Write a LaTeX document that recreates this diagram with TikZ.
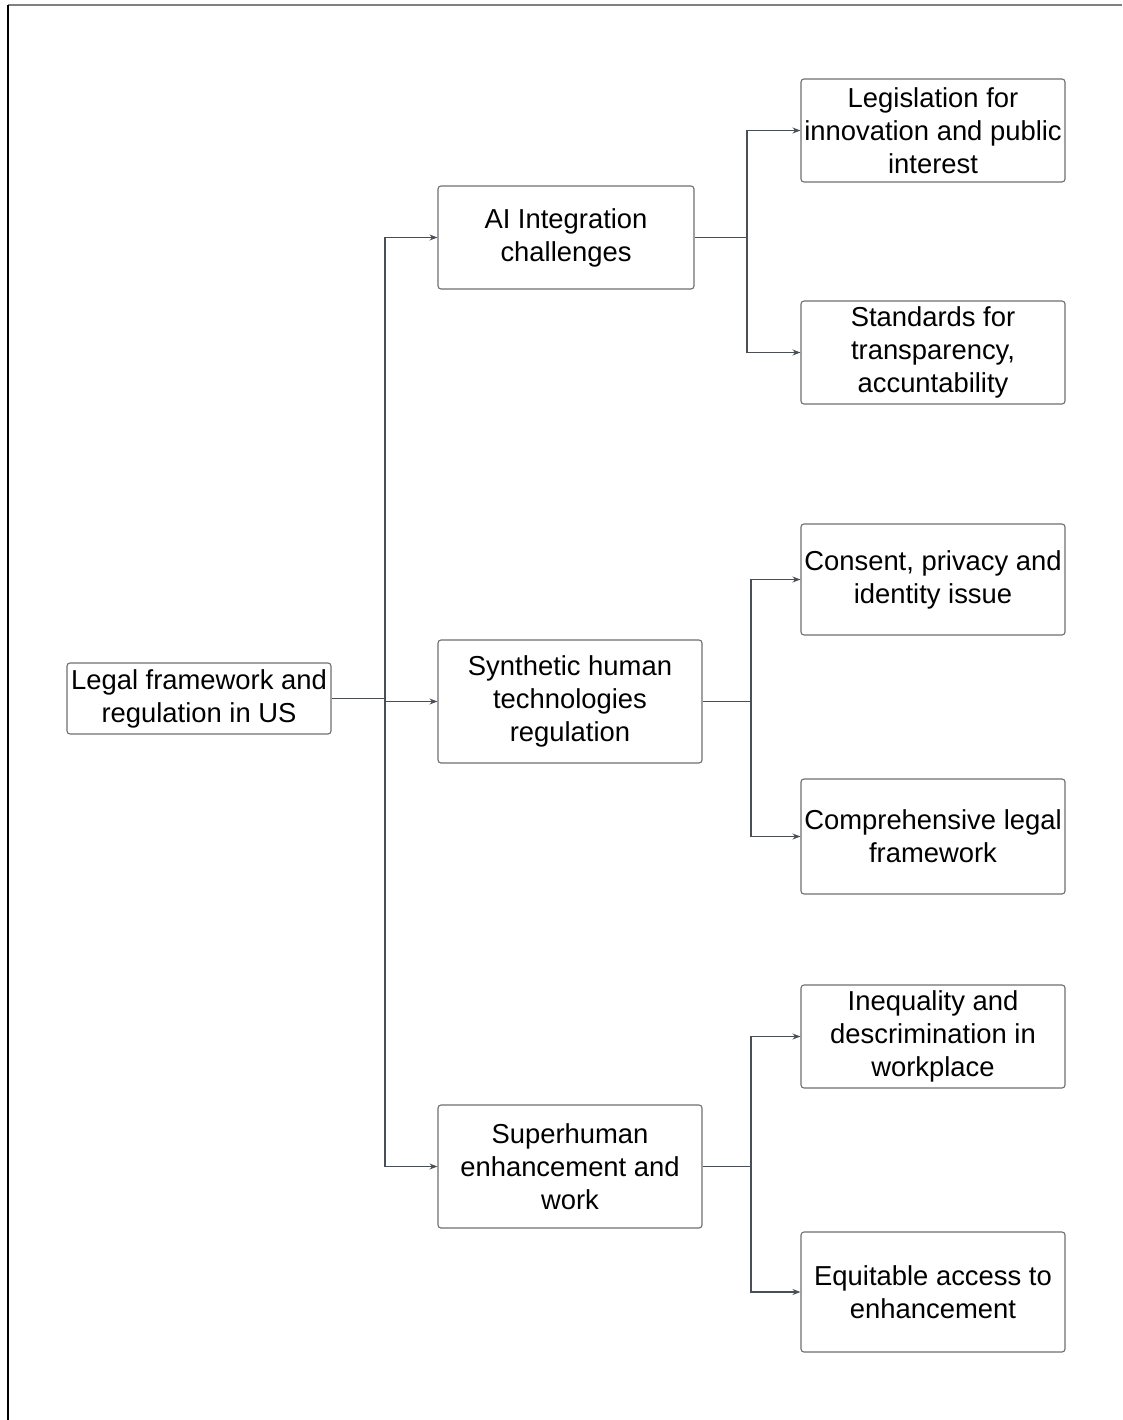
\documentclass[tikz,border=0pt]{standalone}
\usepackage{fontspec}
\setmainfont{Liberation Sans}
\usetikzlibrary{arrows.meta}
\definecolor{edgegray}{HTML}{6E6E6E}
\definecolor{linkgray}{HTML}{4A4F57}
\begin{document}
\begin{tikzpicture}[x=1pt,y=-1pt,
  box/.style={draw=edgegray,line width=1.1pt,rounded corners=3pt,align=center,
    inner sep=0pt,font=\fontsize{27.4}{33}\selectfont},
  link/.style={draw=linkgray,line width=1.2pt},
  arr/.style={link,-{Stealth[length=8pt,width=6pt]}}]
\useasboundingbox (0,0) rectangle (1122,1420);
% page frame
\draw[line width=1.2pt,gray] (8,5) -- (1122,5);
\draw[line width=1.2pt,black] (8,5) -- (8,1420);
% nodes
\node[box,minimum width=264pt,minimum height=71pt] (root) at (199,698.5) {Legal framework and\\regulation in US};
\node[box,minimum width=256pt,minimum height=103pt] (ai) at (566,237.5) {AI Integration\\challenges};
\node[box,minimum width=264pt,minimum height=123pt] (syn) at (570,701.5) {Synthetic human\\technologies\\regulation};
\node[box,minimum width=264pt,minimum height=123pt] (sup) at (570,1166.5) {Superhuman\\enhancement and\\work};
\node[box,minimum width=264pt,minimum height=103pt] (r1) at (933,130.5) {Legislation for\\innovation and public\\interest};
\node[box,minimum width=264pt,minimum height=103pt] (r2) at (933,352.5) {Standards for\\transparency,\\accuntability};
\node[box,minimum width=264pt,minimum height=111pt] (r3) at (933,579.5) {Consent, privacy and\\identity issue};
\node[box,minimum width=264pt,minimum height=115pt] (r4) at (933,836.5) {Comprehensive legal\\framework};
\node[box,minimum width=264pt,minimum height=103pt] (r5) at (933,1036.5) {Inequality and\\descrimination in\\workplace};
\node[box,minimum width=264pt,minimum height=120pt] (r6) at (933,1292) {Equitable access to\\enhancement};
% junction points
\coordinate (j0) at (385,698.5);
\coordinate (j1) at (747,237.5);
\coordinate (j2) at (751,701.5);
\coordinate (j3) at (751,1166.5);
% root to second level
\draw[link] (root.east) -- (j0);
\draw[arr] (j0) |- (ai.west);
\draw[arr] (j0) |- (syn.west);
\draw[arr] (j0) |- (sup.west);
% second to third level
\draw[link] (ai.east) -- (j1);
\draw[arr] (j1) |- (r1.west);
\draw[arr] (j1) |- (r2.west);
\draw[link] (syn.east) -- (j2);
\draw[arr] (j2) |- (r3.west);
\draw[arr] (j2) |- (r4.west);
\draw[link] (sup.east) -- (j3);
\draw[arr] (j3) |- (r5.west);
\draw[arr] (j3) |- (r6.west);
\end{tikzpicture}
\end{document}
